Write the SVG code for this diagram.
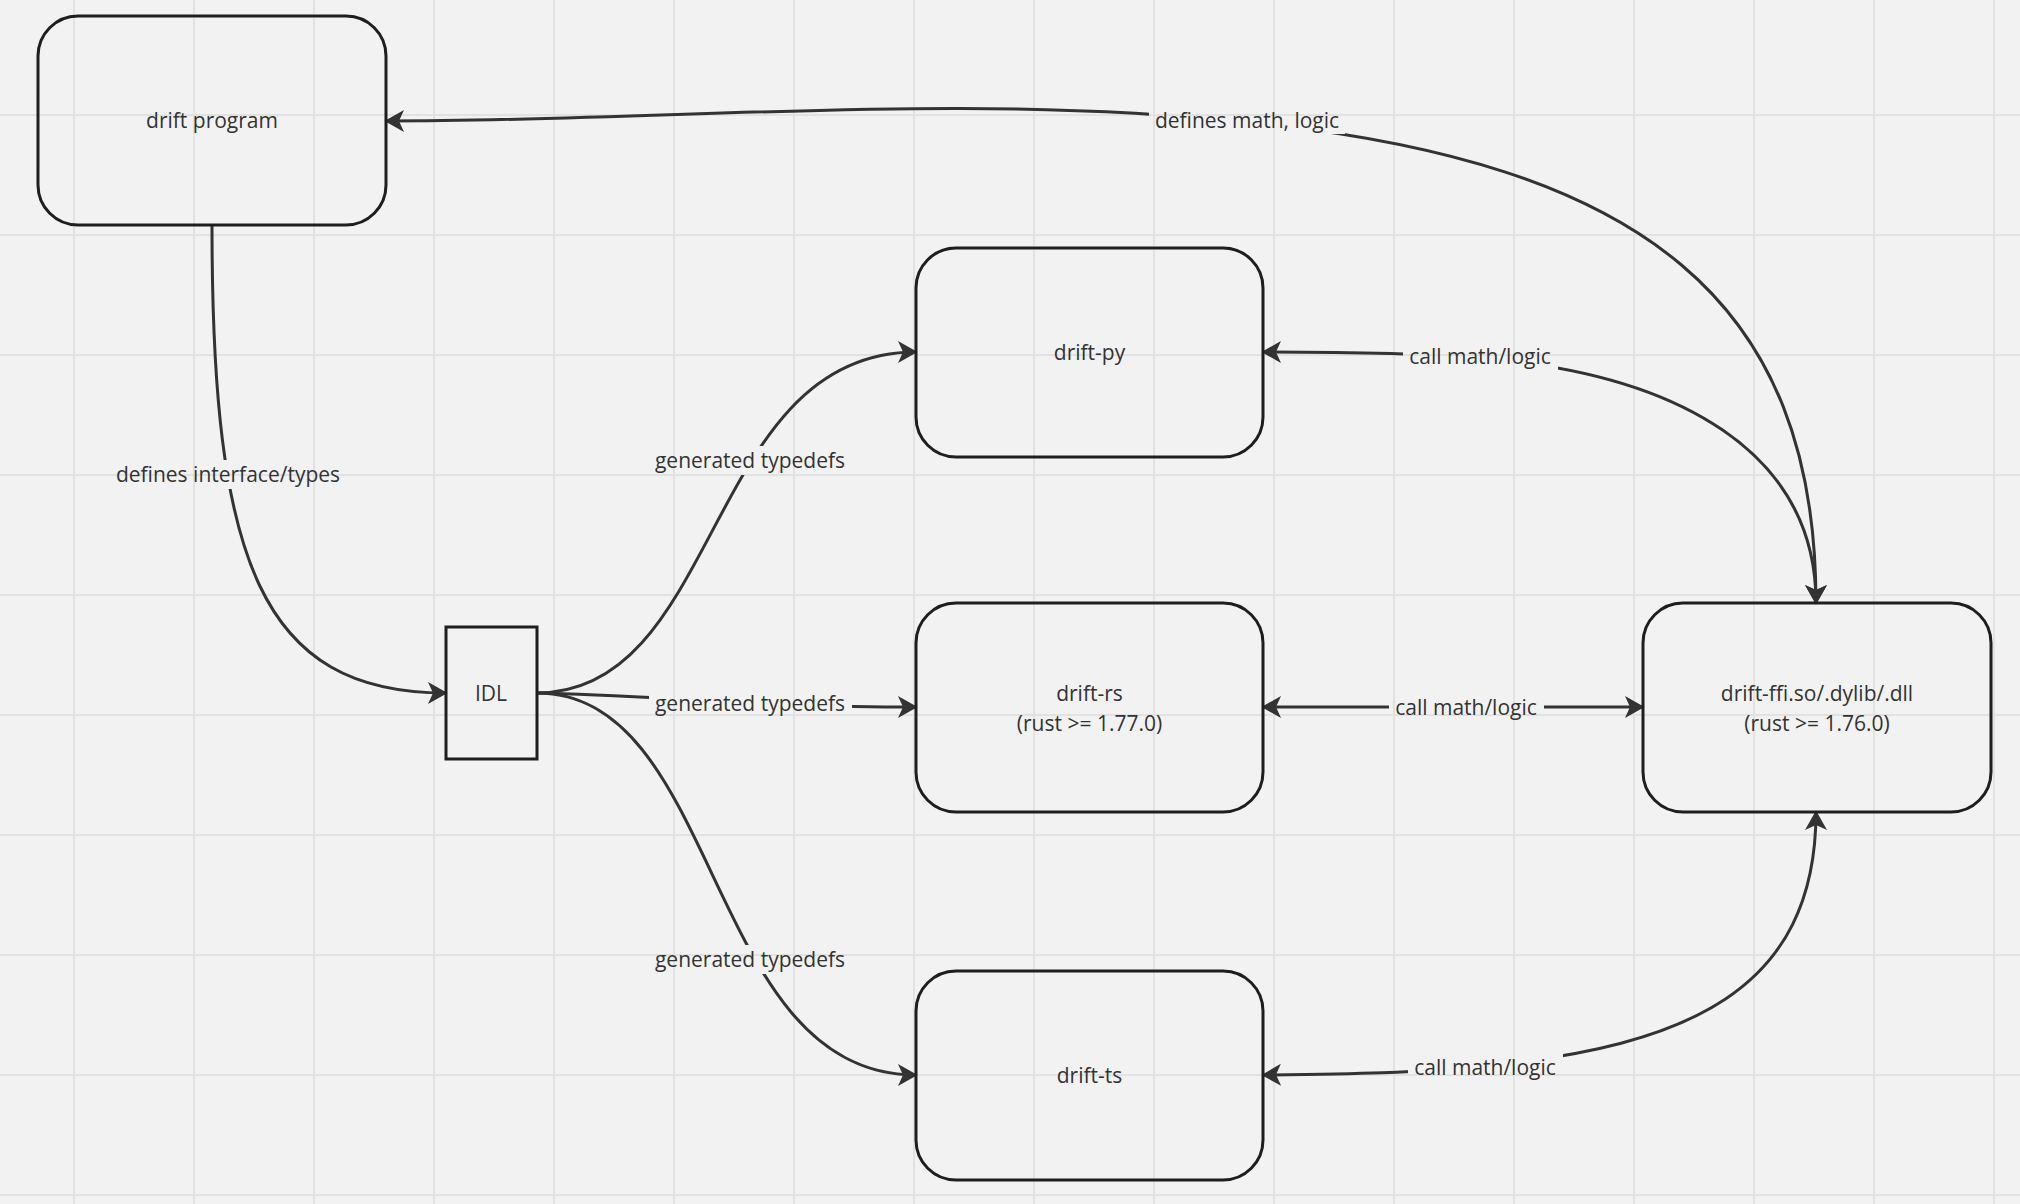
<svg xmlns="http://www.w3.org/2000/svg" width="2020" height="1204" viewBox="0 0 2020 1204">
  <style>
    .grid { stroke: #e2e2e2; stroke-width: 2; fill: none; }
    .node { fill: none; stroke: #1e1e1e; stroke-width: 3; }
    .conn { fill: none; stroke: #333333; stroke-width: 3; }
    .txt { font-family: "Open Sans", "Noto Sans", "Liberation Sans", sans-serif; font-size: 21px; fill: #333333; text-anchor: middle; }
  </style>
  <defs>
    <marker id="arrow" viewBox="-20 -12 22 24" refX="0" refY="0" markerWidth="22" markerHeight="24" markerUnits="userSpaceOnUse" orient="auto-start-reverse">
      <path d="M1.5,0 L-18,-11 L-13,0 L-18,11 Z" fill="#333333"/>
    </marker>
    <mask id="labelGaps" maskUnits="userSpaceOnUse" x="0" y="0" width="2020" height="1204">
      <rect x="0" y="0" width="2020" height="1204" fill="#fff"/>
      <rect x="110" y="460" width="235" height="29" fill="#000"/>
      <rect x="648" y="446" width="203" height="29" fill="#000"/>
      <rect x="649" y="689" width="203" height="29" fill="#000"/>
      <rect x="648" y="945" width="203" height="29" fill="#000"/>
      <rect x="1149" y="105" width="196" height="29" fill="#000"/>
      <rect x="1403" y="342" width="155" height="29" fill="#000"/>
      <rect x="1389" y="693" width="155" height="29" fill="#000"/>
      <rect x="1408" y="1053" width="155" height="29" fill="#000"/>
    </mask>
  </defs>

  <rect x="0" y="0" width="2020" height="1204" fill="#f2f2f2"/>
  <g id="grid">
    <path class="grid" d="M74,0V1204 M194,0V1204 M314,0V1204 M434,0V1204 M554,0V1204 M674,0V1204 M794,0V1204 M914,0V1204 M1034,0V1204 M1154,0V1204 M1274,0V1204 M1394,0V1204 M1514,0V1204 M1634,0V1204 M1754,0V1204 M1874,0V1204 M1994,0V1204 M0,115H2020 M0,235H2020 M0,355H2020 M0,475H2020 M0,595H2020 M0,715H2020 M0,835H2020 M0,955H2020 M0,1075H2020 M0,1195H2020"/>
  </g>

  <g id="connectors" mask="url(#labelGaps)">
    <path id="c-program-idl" class="conn" d="M212,226 C212,560 260,693 446,693" marker-end="url(#arrow)"/>
    <path id="c-idl-py" class="conn" d="M537,693 C722,693 705,352 916,352" marker-end="url(#arrow)"/>
    <path id="c-idl-rs" class="conn" d="M537,693 C650,695 760,707 916,707" marker-end="url(#arrow)"/>
    <path id="c-idl-ts" class="conn" d="M537,693 C722,693 705,1075 916,1075" marker-end="url(#arrow)"/>
    <path id="c-ffi-program" class="conn" d="M386,121 C686,121 947,92 1247,122 C1647,162 1816,303 1816,603" marker-start="url(#arrow)" marker-end="url(#arrow)"/>
    <path id="c-py-ffi" class="conn" d="M1263,352 C1350,352 1430,354 1480,358 C1680,374 1816,453 1816,603" marker-start="url(#arrow)" marker-end="url(#arrow)"/>
    <path id="c-rs-ffi" class="conn" d="M1263,707 L1643,707" marker-start="url(#arrow)" marker-end="url(#arrow)"/>
    <path id="c-ts-ffi" class="conn" d="M1263,1075 C1350,1074 1420,1073 1485,1066 C1685,1046 1816,992 1816,812" marker-start="url(#arrow)" marker-end="url(#arrow)"/>
  </g>

  <g id="connector-labels">
    <text class="txt" x="228" y="482">defines interface/types</text>
    <text class="txt" x="750" y="468">generated typedefs</text>
    <text class="txt" x="750" y="711">generated typedefs</text>
    <text class="txt" x="750" y="967">generated typedefs</text>
    <text class="txt" x="1247" y="128">defines math, logic</text>
    <text class="txt" x="1480" y="364">call math/logic</text>
    <text class="txt" x="1466" y="715">call math/logic</text>
    <text class="txt" x="1485" y="1075">call math/logic</text>
  </g>

  <g id="drift-program">
    <rect class="node" x="38" y="16" width="348" height="209" rx="40" ry="40"/>
    <text class="txt" x="212" y="128">drift program</text>
  </g>
  <g id="idl">
    <rect class="node" x="446" y="627" width="91" height="132"/>
    <text class="txt" x="491" y="701">IDL</text>
  </g>
  <g id="drift-py">
    <rect class="node" x="916" y="248" width="347" height="209" rx="40" ry="40"/>
    <text class="txt" x="1089.5" y="360">drift-py</text>
  </g>
  <g id="drift-rs">
    <rect class="node" x="916" y="603" width="347" height="209" rx="40" ry="40"/>
    <text class="txt" x="1089.5" y="701">drift-rs</text>
    <text class="txt" x="1089.5" y="731">(rust &gt;= 1.77.0)</text>
  </g>
  <g id="drift-ts">
    <rect class="node" x="916" y="971" width="347" height="209" rx="40" ry="40"/>
    <text class="txt" x="1089.5" y="1083">drift-ts</text>
  </g>
  <g id="drift-ffi">
    <rect class="node" x="1643" y="603" width="348" height="209" rx="40" ry="40"/>
    <text class="txt" x="1817" y="701">drift-ffi.so/.dylib/.dll</text>
    <text class="txt" x="1817" y="731">(rust &gt;= 1.76.0)</text>
  </g>
</svg>
